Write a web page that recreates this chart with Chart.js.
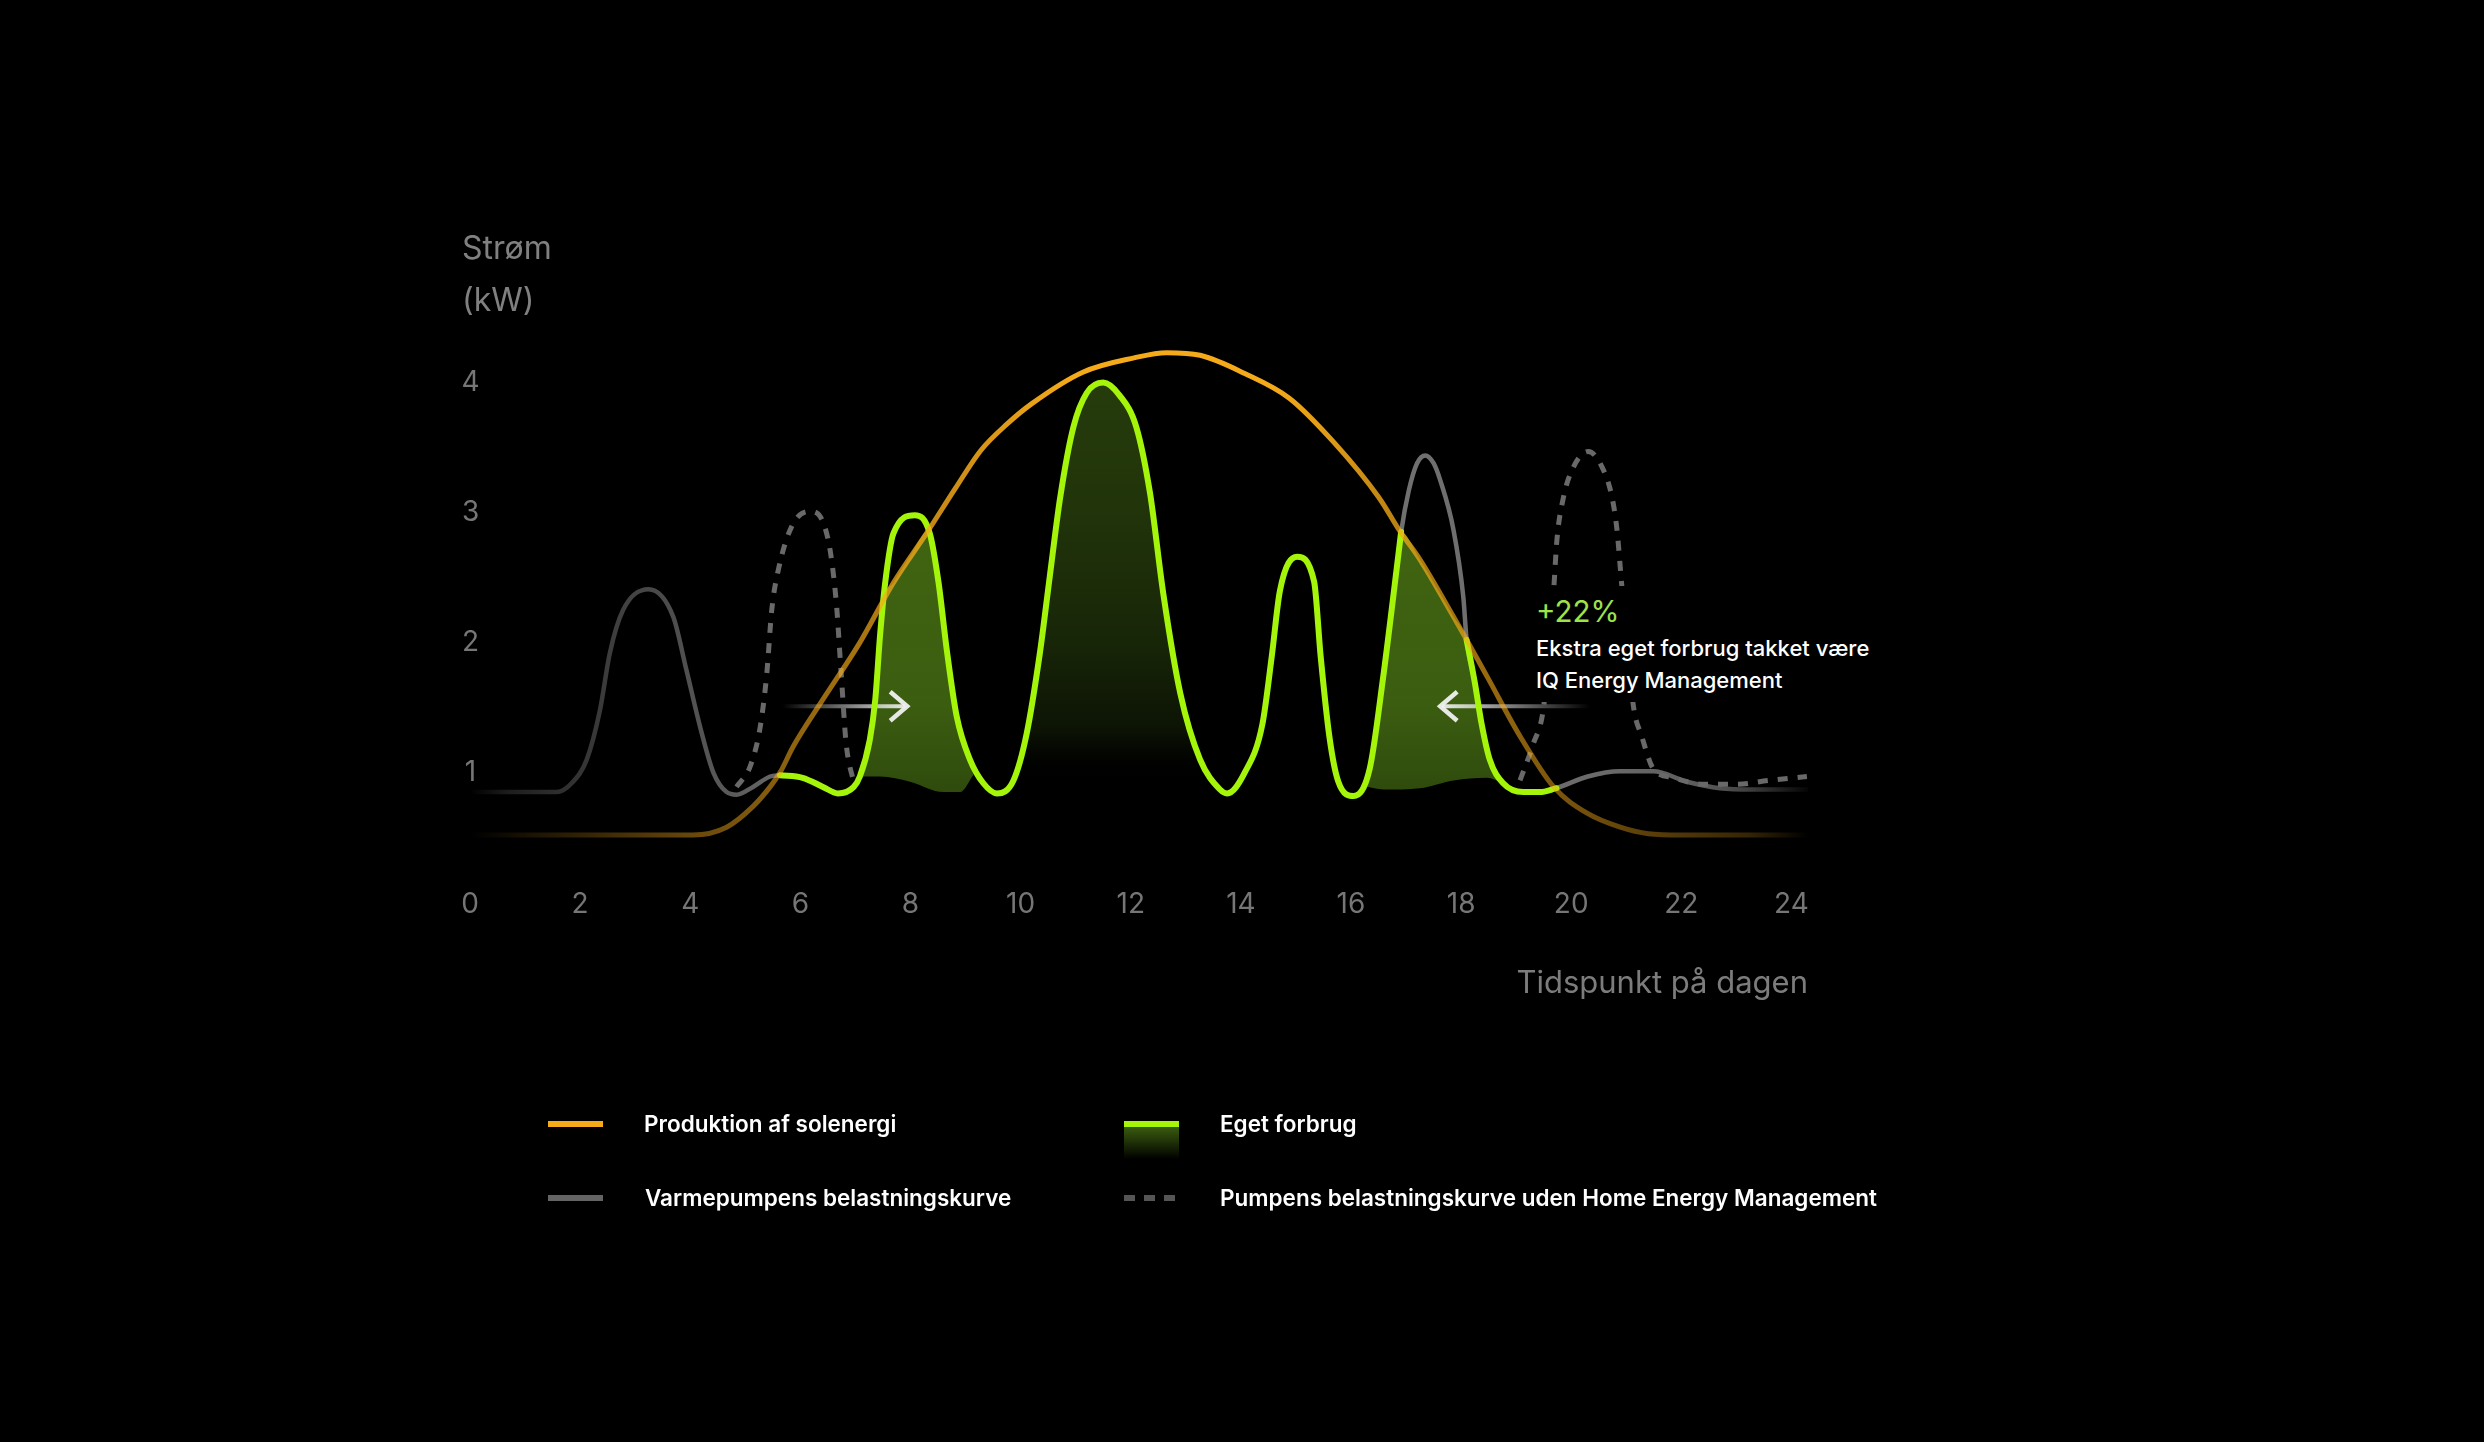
<!DOCTYPE html>
<html>
<head>
<meta charset="utf-8">
<title>Strøm</title>
<script src="https://cdn.jsdelivr.net/npm/chart.js@4.4.1/dist/chart.umd.min.js"></script>
<style>
  html, body { margin: 0; padding: 0; background: #000; width: 2484px; height: 1442px; overflow: hidden; }
  #wrap { position: relative; width: 2484px; height: 1442px; font-family: Inter, "Noto Sans", sans-serif; }
  #c { position: absolute; left: 0; top: 0; }
  .abs { position: absolute; white-space: nowrap; }
  #ytitle { left: 462px; top: 221.5px; font-size: 32px; line-height: 52px; color: #808080; }
  #note { left: 1528px; top: 586px; width: 360px; height: 116px; background: #000; }
  #note .pct { position: absolute; left: 8px; top: 7px; font-size: 29.5px; line-height: 36px; color: #9fe24a; }
  #note .txt { position: absolute; left: 8px; top: 46px; font-size: 22px; line-height: 32px; color: #fff; font-weight: 500; }
  .lg-text { position: absolute; font-size: 22.5px; line-height: 30px; font-weight: 600; color: #fff; white-space: nowrap; }
  .lg-sw { position: absolute; }
</style>
</head>
<body>
<div id="wrap">
  <canvas id="c" width="2484" height="1442"></canvas>
  <div id="ytitle" class="abs">Strøm<br>(kW)</div>
  <div id="note" class="abs">
    <div class="pct">+22%</div>
    <div class="txt">Ekstra eget forbrug takket være<br>IQ Energy Management</div>
  </div>
  <div id="legend"></div>
</div>
<script>
// ---------- data (hours of the day, kW) ----------
const hourTicks = [0, 2, 4, 6, 8, 10, 12, 14, 16, 18, 20, 22, 24];
const kwTicks = [1, 2, 3, 4];

const solarLabel = 'Produktion af solenergi';
const solarHours = [0, 2, 4.05, 4.66, 5.14, 5.45, 5.63, 5.87, 6.36, 7.08, 7.69, 8.29, 8.82, 9.28, 9.75, 10.21, 11.13, 12.06, 12.65, 13.26, 14.07, 14.88, 15.69, 16.5, 16.9, 17.25, 17.86, 18.47, 19.07, 19.68, 20.28, 20.89, 21.4, 22, 24.3];
const solarKw    = [0.5, 0.5, 0.5, 0.56, 0.72, 0.87, 0.98, 1.18, 1.51, 1.98, 2.44, 2.82, 3.17, 3.46, 3.66, 3.82, 4.06, 4.17, 4.21, 4.19, 4.05, 3.86, 3.52, 3.1, 2.83, 2.62, 2.18, 1.72, 1.26, 0.87, 0.67, 0.56, 0.51, 0.5, 0.5];

const ownUseLabel = 'Eget forbrug';
const ownUseHours = [5.63, 6.04, 6.41, 6.68, 6.97, 7.08, 7.26, 7.36, 7.45, 7.54, 7.69, 8.08, 8.35, 8.51, 8.66, 8.84, 9.08, 9.32, 9.57, 9.87, 10.11, 10.35, 10.53, 10.72, 10.96, 11.2, 11.5, 11.8, 12.1, 12.35, 12.59, 12.9, 13.26, 13.62, 13.75, 14.07, 14.39, 14.56, 14.71, 15.02, 15.33, 15.45, 15.61, 15.77, 16.05, 16.34, 16.58, 16.83, 16.91, 17.5, 18.1, 18.25, 18.37, 18.52, 18.76, 19.13, 19.43, 19.73];
const ownUseKw    = [0.96, 0.94, 0.87, 0.82, 0.87, 0.95, 1.23, 1.54, 2.05, 2.44, 2.82, 2.96, 2.82, 2.44, 1.92, 1.41, 1.08, 0.9, 0.82, 0.92, 1.28, 1.9, 2.49, 3.1, 3.64, 3.9, 3.98, 3.88, 3.64, 3.13, 2.36, 1.59, 1.08, 0.85, 0.82, 0.98, 1.35, 1.87, 2.38, 2.64, 2.45, 1.87, 1.25, 0.91, 0.8, 1.01, 1.7, 2.55, 2.83, null, 2.0, 1.67, 1.36, 1.08, 0.9, 0.83, 0.83, 0.86];

const pumpLabel = 'Varmepumpens belastningskurve';
const pumpHours = [0, 1.57, 1.85, 2.12, 2.36, 2.54, 2.78, 3.24, 3.69, 3.93, 4.18, 4.42, 4.66, 4.84, 5.14, 5.45, 5.63, 11, 16.58, 16.83, 16.91, 17.05, 17.2, 17.35, 17.5, 17.62, 17.86, 18.04, 18.1, 18.25, 18.37, 18.52, 18.76, 19.13, 19.43, 19.73, 20.3, 20.88, 21.49, 22.1, 22.7, 23.3, 24.3];
const pumpKw    = [0.83, 0.83, 0.9, 1.08, 1.46, 1.9, 2.23, 2.39, 2.18, 1.77, 1.33, 0.98, 0.83, 0.81, 0.87, 0.95, 0.96, null, 1.7, 2.55, 2.83, 3.15, 3.36, 3.42, 3.36, 3.23, 2.85, 2.33, 2.0, 1.67, 1.36, 1.08, 0.9, 0.83, 0.83, 0.86, 0.95, 0.99, 0.99, 0.91, 0.86, 0.85, 0.85];

const pumpNoHemLabel = 'Pumpens belastningskurve uden Home Energy Management';
const pumpNoHemHours = [4.84, 5.09, 5.27, 5.39, 5.48, 5.6, 5.85, 6.17, 6.5, 6.65, 6.74, 6.83, 6.97, 13, 19.07, 19.31, 19.5, 19.68, 19.74, 19.86, 20.04, 20.31, 20.56, 20.74, 20.83, 20.92, 21.13, 21.28, 21.49, 21.86, 22.4, 23.0, 23.6, 24.28];
const pumpNoHemKw    = [0.87, 1.03, 1.33, 1.74, 2.23, 2.54, 2.88, 2.99, 2.78, 2.3, 1.75, 1.21, 0.9, null, 0.92, 1.2, 1.49, 2.38, 2.77, 3.1, 3.33, 3.45, 3.33, 3.1, 2.85, 2.41, 1.49, 1.26, 1.01, 0.94, 0.89, 0.89, 0.92, 0.95];

// shifted consumption covered by solar (morning and evening)
const morningTopHours  = [7.08, 7.26, 7.36, 7.45, 7.5, 7.69, 8.0, 8.33, 8.51, 8.66, 8.84, 9.08, 9.14];
const morningTopKw     = [0.95, 1.23, 1.54, 2.05, 2.28, 2.44, 2.65, 2.84, 2.44, 1.92, 1.41, 1.08, 0.96];
const morningBaseHours = [7.08, 7.45, 7.99, 8.6, 8.9, 9.14];
const morningBaseKw    = [0.95, 0.95, 0.91, 0.83, 0.83, 0.96];
const eveningTopHours  = [16.2, 16.34, 16.58, 16.83, 16.91, 17.25, 17.86, 18.1, 18.25, 18.37, 18.52, 18.76];
const eveningTopKw     = [0.88, 1.01, 1.7, 2.55, 2.83, 2.62, 2.18, 2.0, 1.67, 1.36, 1.08, 0.9];
const eveningBaseHours = [16.2, 16.6, 17.25, 17.86, 18.47, 18.76];
const eveningBaseKw    = [0.88, 0.85, 0.86, 0.92, 0.94, 0.9];
const middayRange = [9.57, 13.75];

// annotation arrows (hours / kW)
const shiftArrows = [
  { fromHour: 5.67, toHour: 7.94, kw: 1.49 },
  { fromHour: 20.34, toHour: 17.62, kw: 1.49 }
];

const xTitle = 'Tidspunkt på dagen';

// ---------- styling ----------
const X_MAX = 24.3, Y_MAX = 4.5;
const ORANGE = '245,170,25';
const GRAY = '118,118,118';
const GREEN = '#a4f50a';
const DASH_GRAY = 'rgb(105,105,105)';

const toPoints = (hours, kws) => hours.map((h, i) => ({ x: h, y: kws[i] }));

function hGradient(chart, rgb, stops) {
  if (!chart.chartArea) return `rgba(${rgb},1)`;
  const xs = chart.scales.x;
  const x0 = xs.getPixelForValue(0), x1 = xs.getPixelForValue(X_MAX);
  const g = chart.ctx.createLinearGradient(x0, 0, x1, 0);
  stops.forEach(([h, a]) => g.addColorStop(Math.min(1, Math.max(0, h / X_MAX)), `rgba(${rgb},${a})`));
  return g;
}
function vGradient(chart, stops, fallback) {
  if (!chart.chartArea) return fallback;
  const ys = chart.scales.y;
  const y0 = ys.getPixelForValue(Y_MAX), y1 = ys.getPixelForValue(0);
  const g = chart.ctx.createLinearGradient(0, y0, 0, y1);
  stops.forEach(([kw, col]) => g.addColorStop(Math.min(1, Math.max(0, (Y_MAX - kw) / Y_MAX)), col));
  return g;
}

const solarStops = [[0, 0], [0.8, 0.08], [2, 0.2], [4, 0.42], [5.5, 0.55], [7, 0.68], [8.4, 0.8], [9.3, 0.88], [10.2, 0.95], [11, 1], [14.5, 1], [15.7, 0.9], [16.5, 0.8], [17.3, 0.7], [18.1, 0.65], [19.75, 0.5], [21.4, 0.37], [23.2, 0.22], [24.3, 0]];
const pumpStops = [[0, 0], [0.7, 0.25], [1.6, 0.39], [3.2, 0.6], [4.7, 0.76], [5.5, 0.86], [17, 0.95], [20.5, 0.9], [22.1, 0.8], [22.7, 0.7], [23.3, 0.5], [24.3, 0.04]];
const shiftFill = [[3.0, 'rgb(64,101,17)'], [1.5, 'rgb(59,93,16)'], [0.8, 'rgb(46,74,13)']];
const middayFill = [[4.0, 'rgb(38,60,12)'], [3.0, 'rgb(33,52,10)'], [2.0, 'rgb(24,38,8)'], [1.3, 'rgb(12,19,4)'], [0.9, 'rgba(0,0,0,0)']];

const lineBase = { pointRadius: 0, pointHoverRadius: 0, cubicInterpolationMode: 'monotone', spanGaps: false, fill: false };

const middayIdx = ownUseHours.map((h, i) => i).filter(i => ownUseHours[i] >= middayRange[0] && ownUseHours[i] <= middayRange[1]);

const datasets = [
  Object.assign({}, lineBase, {
    label: solarLabel, data: toPoints(solarHours, solarKw), order: 0,
    borderWidth: 5, borderCapStyle: 'round', borderJoinStyle: 'round',
    borderColor: c => hGradient(c.chart, ORANGE, solarStops)
  }),
  Object.assign({}, lineBase, {
    label: ownUseLabel, data: toPoints(ownUseHours, ownUseKw), order: 1,
    borderWidth: 6, borderCapStyle: 'round', borderJoinStyle: 'round', borderColor: GREEN
  }),
  Object.assign({}, lineBase, {
    label: pumpNoHemLabel, data: toPoints(pumpNoHemHours, pumpNoHemKw), order: 2,
    borderWidth: 5, borderDash: [10, 10], borderCapStyle: 'butt', borderColor: DASH_GRAY
  }),
  Object.assign({}, lineBase, {
    label: pumpLabel, data: toPoints(pumpHours, pumpKw), order: 3,
    borderWidth: 4.5, borderCapStyle: 'round', borderJoinStyle: 'round',
    borderColor: c => hGradient(c.chart, GRAY, pumpStops)
  }),
  Object.assign({}, lineBase, {
    label: 'midday', data: middayIdx.map(i => ({ x: ownUseHours[i], y: ownUseKw[i] })), order: 10,
    borderWidth: 0, borderColor: 'rgba(0,0,0,0)', fill: 'origin',
    backgroundColor: c => vGradient(c.chart, middayFill, 'rgba(38,60,12,0.5)')
  }),
  Object.assign({}, lineBase, {
    label: 'morningTop', data: toPoints(morningTopHours, morningTopKw), order: 11,
    borderWidth: 0, borderColor: 'rgba(0,0,0,0)', fill: 6,
    backgroundColor: c => vGradient(c.chart, shiftFill, 'rgb(61,95,16)')
  }),
  Object.assign({}, lineBase, {
    label: 'morningBase', data: toPoints(morningBaseHours, morningBaseKw), order: 12,
    borderWidth: 0, borderColor: 'rgba(0,0,0,0)'
  }),
  Object.assign({}, lineBase, {
    label: 'eveningTop', data: toPoints(eveningTopHours, eveningTopKw), order: 11,
    borderWidth: 0, borderColor: 'rgba(0,0,0,0)', fill: 8,
    backgroundColor: c => vGradient(c.chart, shiftFill, 'rgb(61,95,16)')
  }),
  Object.assign({}, lineBase, {
    label: 'eveningBase', data: toPoints(eveningBaseHours, eveningBaseKw), order: 12,
    borderWidth: 0, borderColor: 'rgba(0,0,0,0)'
  })
];

const arrowPlugin = {
  id: 'shiftArrows',
  afterDatasetDraw(chart, args) {
    if (args.index !== 4) return;
    const { ctx } = chart;
    const xs = chart.scales.x, ys = chart.scales.y;
    ctx.save();
    shiftArrows.forEach(a => {
      const x0 = xs.getPixelForValue(a.fromHour), x1 = xs.getPixelForValue(a.toHour);
      const y = ys.getPixelForValue(a.kw);
      const g = ctx.createLinearGradient(x0, 0, x1, 0);
      g.addColorStop(0, 'rgba(235,235,235,0)');
      g.addColorStop(0.55, 'rgba(235,235,235,0.55)');
      g.addColorStop(1, 'rgba(240,240,240,0.95)');
      ctx.strokeStyle = g;
      ctx.lineWidth = 4;
      ctx.lineCap = 'butt';
      ctx.beginPath(); ctx.moveTo(x0, y); ctx.lineTo(x1 - Math.sign(x1 - x0) * 2, y); ctx.stroke();
      const dir = Math.sign(x1 - x0);
      ctx.strokeStyle = 'rgba(240,240,240,0.95)';
      ctx.lineWidth = 4.5;
      ctx.lineJoin = 'miter';
      ctx.beginPath();
      ctx.moveTo(x1 - dir * 17, y - 14.5);
      ctx.lineTo(x1, y);
      ctx.lineTo(x1 - dir * 17, y + 14.5);
      ctx.stroke();
    });
    ctx.restore();
  }
};

function buildLegend(chart) {
  const el = document.getElementById('legend');
  const ds = chart.data.datasets;
  const items = [
    { label: ds[0].label, kind: 'orange', sx: 548, tx: 644, cy: 1124.5 },
    { label: ds[1].label, kind: 'green', sx: 1124, tx: 1220, cy: 1124.5 },
    { label: ds[3].label, kind: 'gray', sx: 548, tx: 645, cy: 1198.5 },
    { label: ds[2].label, kind: 'dash', sx: 1124, tx: 1220, cy: 1198.5 }
  ];
  items.forEach(it => {
    const t = document.createElement('div');
    t.className = 'lg-text';
    t.textContent = it.label;
    t.style.left = it.tx + 'px';
    t.style.top = (it.cy - 16) + 'px';
    el.appendChild(t);
    const mk = (l, tp, w, h, bg) => {
      const s = document.createElement('div');
      s.className = 'lg-sw';
      s.style.left = l + 'px'; s.style.top = tp + 'px';
      s.style.width = w + 'px'; s.style.height = h + 'px';
      s.style.background = bg;
      el.appendChild(s);
    };
    if (it.kind === 'orange') mk(it.sx, it.cy - 4, 55, 6, `rgb(${ORANGE})`);
    if (it.kind === 'gray') mk(it.sx, it.cy - 4, 55, 6, 'rgb(100,100,100)');
    if (it.kind === 'green') {
      mk(it.sx, it.cy + 2, 55, 32, 'linear-gradient(to bottom, rgb(58,92,16), rgba(0,0,0,1))');
      mk(it.sx, it.cy - 4, 55, 6, GREEN);
    }
    if (it.kind === 'dash') {
      [0, 20, 40].forEach(dx => mk(it.sx + dx, it.cy - 4, 11, 6, 'rgb(85,85,85)'));
    }
  });
}

function makeChart() {
  Chart.defaults.font.family = 'Inter, "Noto Sans", sans-serif';
  const chart = new Chart(document.getElementById('c'), {
    type: 'line',
    data: { datasets },
    plugins: [arrowPlugin],
    options: {
      responsive: false,
      devicePixelRatio: 1,
      animation: false,
      events: [],
      layout: { padding: { left: 470, right: 676, top: 315, bottom: 439 } },
      plugins: { legend: { display: false }, tooltip: { enabled: false }, title: { display: false } },
      scales: {
        x: {
          type: 'linear', min: 0, max: X_MAX, position: 'bottom',
          grid: { display: false, drawTicks: false }, border: { display: false },
          afterBuildTicks: s => { s.ticks = hourTicks.map(v => ({ value: v })); },
          afterFit: s => { s.height = 103; },
          ticks: { color: '#767676', font: { size: 28 }, mirror: true, padding: -21, maxRotation: 0, autoSkip: false, callback: v => String(v) },
          title: { display: true, text: xTitle, align: 'end', color: '#7c7c7c', font: { size: 31 }, padding: { top: 0, bottom: 1 } }
        },
        y: {
          type: 'linear', min: 0, max: Y_MAX,
          grid: { display: false, drawTicks: false }, border: { display: false },
          afterBuildTicks: s => { s.ticks = kwTicks.map(v => ({ value: v })); },
          afterFit: s => { s.width = 0; },
          ticks: { color: '#767676', font: { size: 28, lineHeight: '6px' }, mirror: true, crossAlign: 'center', padding: -8.5, callback: v => ['', String(v)] }
        }
      }
    }
  });
  buildLegend(chart);
}

const fontLoads = document.fonts && document.fonts.load
  ? Promise.all(['28px Inter', '600 22px Inter', '500 21px Inter'].map(f => document.fonts.load(f).catch(() => null)))
  : Promise.resolve();
fontLoads.then(makeChart, makeChart);
</script>
</body>
</html>
